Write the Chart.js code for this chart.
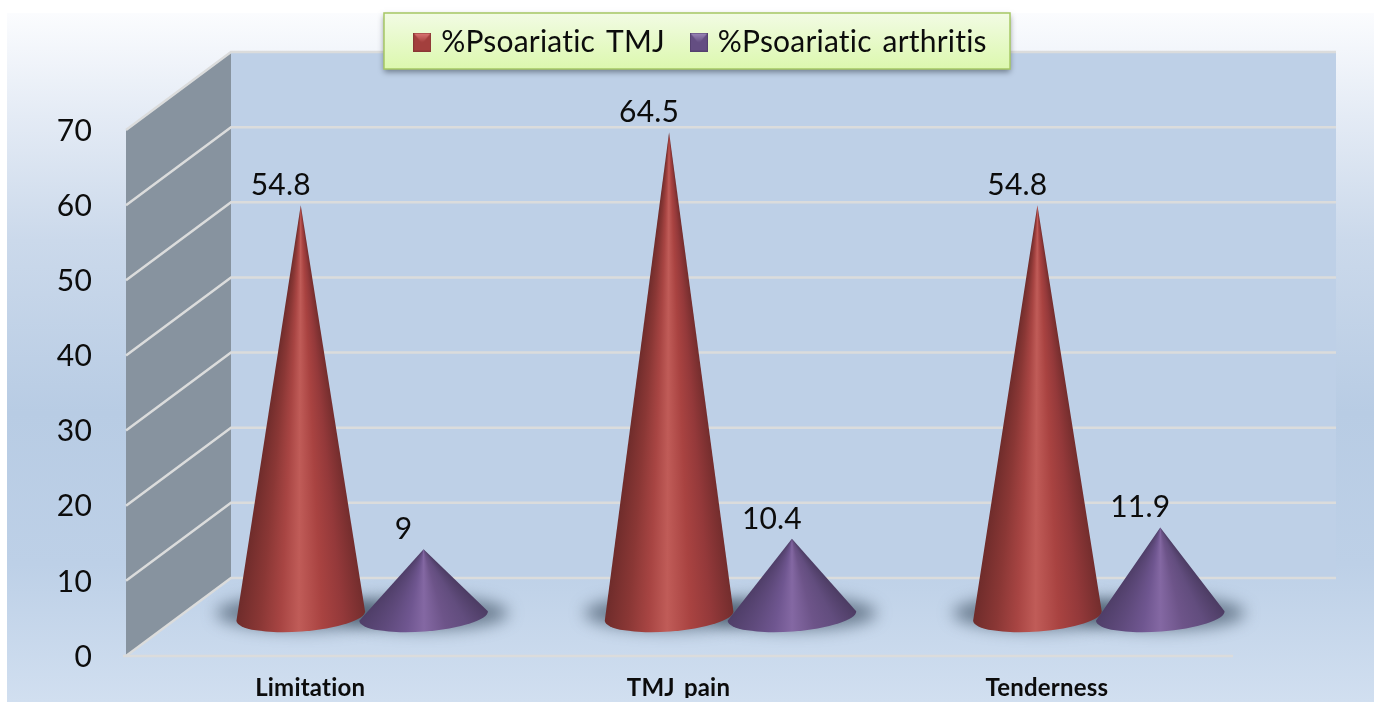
<!DOCTYPE html>
<html>
<head>
<meta charset="utf-8">
<title>Psoariatic TMJ</title>
<script src="https://cdn.jsdelivr.net/npm/chart.js@4"></script>
<style>
    html, body { margin: 0; padding: 0; background: #fff; overflow: hidden; height: 702px; }
    canvas { display: block; }
</style>
</head>
<body>
<!-- canvas runs a little past the window: the x axis keeps a fixed strip under the plot -->
<canvas id="coneChart" width="1374" height="708"></canvas>
<script>
const categories = ['Limitation', 'TMJ pain', 'Tenderness'];
const tmjValues = [54.8, 64.5, 54.8];
const arthritisValues = [9, 10.4, 11.9];
const seriesNames = ['%Psoariatic TMJ', '%Psoariatic arthritis'];
const yMax = 70;
const yStep = 10;

const FONT = 'Lato';
// oblique depth of the 3D box; cones stand half way in
const DEPTH_X = 105;
const DEPTH_Y = 78;
const CONE_X = 52;
const CONE_Y = 39;

const redShades = ['#6f2c2b', '#8a3735', '#a84543', '#c05c58', '#a94341', '#94393a', '#732d2d'];
const purpleShades = ['#4f3e68', '#5f4a7c', '#6f5690', '#8468a3', '#6d5489', '#624d7e', '#4c3c63'];

// Legend keys are small bevelled squares
function makeKey(dark, mid, light) {
    const c = document.createElement('canvas');
    c.width = 18;
    c.height = 19;
    const g = c.getContext('2d');
    g.fillStyle = mid;
    g.fillRect(0, 0, 18, 19);
    const grad = g.createLinearGradient(0, 0, 0, 10);
    grad.addColorStop(0, light);
    grad.addColorStop(1, mid);
    g.fillStyle = grad;
    g.beginPath();
    g.moveTo(0, 0);
    g.lineTo(18, 0);
    g.lineTo(9, 11);
    g.closePath();
    g.fill();
    g.strokeStyle = dark;
    g.strokeRect(0.5, 0.5, 17, 18);
    return c;
}
const legendKeys = [
    makeKey('#8a3735', '#a33f3d', '#e07a78'),
    makeKey('#54416f', '#644e82', '#9f8bbc')
];

function drawBackdrop(chart) {
    const ctx = chart.ctx;
    const y = chart.scales.y;
    const x = chart.scales.x;
    const left = x.left;
    const right = x.right;
    const y0 = y.getPixelForValue(0);
    const yTop = y.getPixelForValue(yMax);

    ctx.save();
    const bg = ctx.createLinearGradient(0, 13, 0, 702);
    bg.addColorStop(0, '#fbfcfe');
    bg.addColorStop(0.15, '#e4ebf5');
    bg.addColorStop(0.33, '#cbd9eb');
    bg.addColorStop(0.58, '#b8cce4');
    bg.addColorStop(0.8, '#bdd0e7');
    bg.addColorStop(1, '#d1dff0');
    ctx.fillStyle = bg;
    ctx.fillRect(7, 13, chart.width - 7, chart.height - 13);

    // back wall
    ctx.fillStyle = '#bed0e7';
    ctx.fillRect(left + DEPTH_X, yTop - DEPTH_Y, right - left, y0 - yTop);

    // side wall
    ctx.fillStyle = '#87939f';
    ctx.beginPath();
    ctx.moveTo(left, y0);
    ctx.lineTo(left, yTop);
    ctx.lineTo(left + DEPTH_X, yTop - DEPTH_Y);
    ctx.lineTo(left + DEPTH_X, y0 - DEPTH_Y);
    ctx.closePath();
    ctx.fill();

    // grid lines run along the side wall and across the back
    ctx.strokeStyle = '#dbdcdc';
    ctx.lineWidth = 2.5;
    y.ticks.forEach(t => {
        const py = y.getPixelForValue(t.value);
        ctx.beginPath();
        ctx.moveTo(left, py);
        ctx.lineTo(left + DEPTH_X, py - DEPTH_Y);
        ctx.lineTo(right + DEPTH_X, py - DEPTH_Y);
        ctx.stroke();
    });
    ctx.beginPath();
    ctx.moveTo(left - 3, y0);
    ctx.lineTo(right + 2, y0);
    ctx.stroke();
    ctx.restore();
}

function drawLegendBox(chart) {
    const ctx = chart.ctx;
    const boxX = 384, boxY = 13, boxW = 626, boxH = 56;
    ctx.save();
    ctx.shadowColor = 'rgba(40, 50, 60, 0.55)';
    ctx.shadowBlur = 6;
    ctx.shadowOffsetY = 3;
    const grad = ctx.createLinearGradient(0, boxY, 0, boxY + boxH);
    grad.addColorStop(0, '#f2fbe4');
    grad.addColorStop(1, '#dcf8ae');
    ctx.fillStyle = grad;
    ctx.fillRect(boxX, boxY, boxW, boxH);
    ctx.shadowColor = 'transparent';
    ctx.strokeStyle = '#a6c864';
    ctx.lineWidth = 1.5;
    ctx.strokeRect(boxX, boxY, boxW, boxH);
    ctx.restore();
}

function coneGeometry(bar) {
    const cx = bar.x + CONE_X;
    const tipY = bar.y - CONE_Y;
    const baseY = bar.base - CONE_Y - 1;
    const rx = bar.width / 2;
    return { cx, tipY, baseY, rx, ry: 15.5, tilt: -0.075 };
}

function drawConeShadow(ctx, bar) {
    const c = coneGeometry(bar);
    ctx.save();
    ctx.filter = 'blur(8px)';
    ctx.fillStyle = 'rgba(62, 80, 98, 0.65)';
    ctx.beginPath();
    ctx.ellipse(c.cx, c.baseY - 3, c.rx + 20, 17, 0, 0, Math.PI * 2);
    ctx.fill();
    ctx.restore();
}

function drawCone(ctx, bar, shades) {
    const c = coneGeometry(bar);
    const lx = c.cx - c.rx * Math.cos(c.tilt);
    const ly = c.baseY - c.rx * Math.sin(c.tilt);
    const rx = c.cx + c.rx * Math.cos(c.tilt);
    const ry = c.baseY + c.rx * Math.sin(c.tilt);

    // conic gradient from the tip, so the shading converges like a real cone
    const a0 = Math.atan2(ry - c.tipY, rx - c.cx);
    const a1 = Math.atan2(ly - c.tipY, lx - c.cx);
    const span = (a1 - a0) / (Math.PI * 2);
    const grad = ctx.createConicGradient(a0, c.cx, c.tipY);
    const stops = [0, 0.18, 0.34, 0.52, 0.66, 0.82, 1];
    grad.addColorStop(0, shades[6]);
    stops.forEach((s, i) => grad.addColorStop(span * s, shades[6 - i]));
    grad.addColorStop(Math.min(span + 0.001, 1), shades[0]);
    grad.addColorStop(1, shades[6]);

    ctx.save();
    ctx.fillStyle = grad;
    ctx.beginPath();
    ctx.moveTo(c.cx, c.tipY);
    ctx.lineTo(lx, ly);
    ctx.ellipse(c.cx, c.baseY, c.rx, c.ry, c.tilt, Math.PI, 0, true);
    ctx.closePath();
    ctx.fill();
    ctx.restore();
}

const conePlugin = {
    id: 'cones',
    beforeLayout(chart) {
        // a small letter spacing also switches off the Lato "ti" ligature
        chart.ctx.letterSpacing = '0.2px';
        chart.ctx.wordSpacing = '3px';
    },
    beforeDraw(chart) {
        drawBackdrop(chart);
        drawLegendBox(chart);
    },
    afterDatasetsDraw(chart) {
        const ctx = chart.ctx;
        const metas = [chart.getDatasetMeta(0), chart.getDatasetMeta(1)];

        metas.forEach(m => m.data.forEach(bar => drawConeShadow(ctx, bar)));
        categories.forEach((cat, i) => {
            drawCone(ctx, metas[0].data[i], redShades);
            drawCone(ctx, metas[1].data[i], purpleShades);
        });

        ctx.save();
        ctx.font = '30px ' + FONT;
        ctx.fillStyle = '#0c0c0c';
        ctx.textAlign = 'center';
        ctx.textBaseline = 'middle';
        metas.forEach((m, d) => m.data.forEach((bar, i) => {
            const c = coneGeometry(bar);
            ctx.fillText(String(chart.data.datasets[d].data[i]), c.cx - 20, c.tipY - 20);
        }));
        ctx.restore();
    },
    afterLayout(chart) {
        // legend sits off-centre, inside its green box
        const lg = chart.legend;
        lg.left += 87;
        lg.right += 87;
        lg.top = -3;
    }
};

const ctx = document.getElementById('coneChart').getContext('2d');
const coneChart = new Chart(ctx, {
    type: 'bar',
    data: {
        labels: categories,
        datasets: [
            { label: seriesNames[0], data: tmjValues, backgroundColor: 'transparent', borderWidth: 0 },
            { label: seriesNames[1], data: arthritisValues, backgroundColor: 'transparent', borderWidth: 0 }
        ]
    },
    options: {
        responsive: false,
        animation: false,
        categoryPercentage: 0.667,
        barPercentage: 1.05,
        layout: { padding: { top: 40, right: 143, left: 0, bottom: 0 } },
        plugins: {
            tooltip: { enabled: false },
            legend: {
                position: 'top',
                labels: {
                    usePointStyle: true,
                    pointStyleWidth: 8,
                    padding: 30,
                    color: '#0c0c0c',
                    font: { family: FONT, size: 30 },
                    generateLabels(chart) {
                        const items = Chart.defaults.plugins.legend.labels.generateLabels(chart);
                        items.forEach((item, i) => { item.pointStyle = legendKeys[i]; });
                        return items;
                    }
                }
            }
        },
        scales: {
            x: {
                grid: { display: false },
                border: { display: false },
                afterFit(scale) { scale.height = 42; },
                ticks: {
                    padding: 10,
                    color: '#0c0c0c',
                    font: { family: FONT, size: 24, weight: '700' }
                }
            },
            y: {
                min: 0,
                max: yMax,
                grid: { display: false, drawTicks: false },
                border: { display: false },
                afterFit(scale) { scale.width = 126; },
                ticks: {
                    stepSize: yStep,
                    padding: 34,
                    labelOffset: 1,
                    color: '#0c0c0c',
                    font: { family: FONT, size: 30 }
                }
            }
        }
    },
    plugins: [conePlugin]
});

// nudge the top padding so the 70 tick lands on the box corner
coneChart.options.layout.padding.top += 130 - coneChart.chartArea.top;
coneChart.update('none');
</script>
</body>
</html>
